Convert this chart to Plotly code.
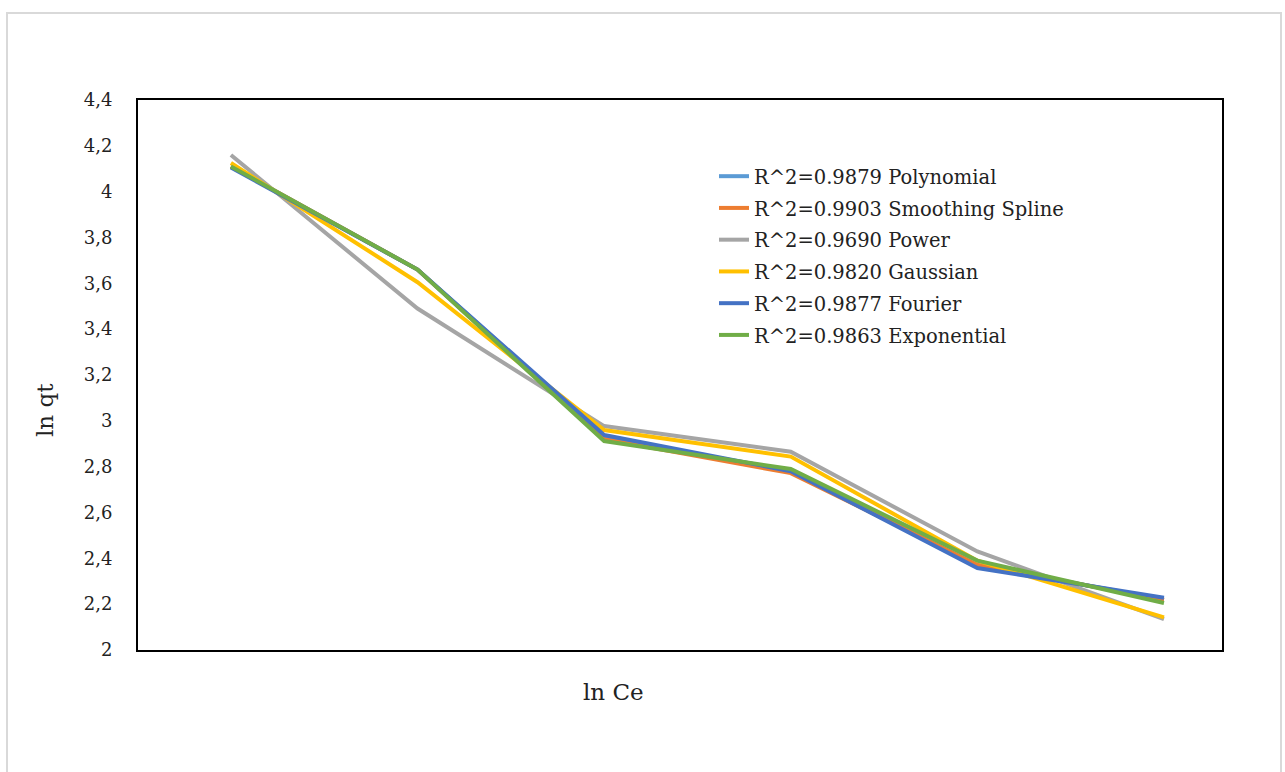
import plotly.graph_objects as go

x_vals = [1, 2, 3, 4, 5, 6]

polynomial = [4.11, 3.66, 2.93, 2.78, 2.37, 2.22]
smoothing_spline = [4.11, 3.66, 2.92, 2.772, 2.372, 2.218]
power = [4.16, 3.49, 2.977, 2.865, 2.43, 2.135]
gaussian = [4.125, 3.605, 2.96, 2.844, 2.39, 2.142]
fourier = [4.105, 3.66, 2.938, 2.78, 2.358, 2.228]
exponential = [4.11, 3.66, 2.912, 2.79, 2.39, 2.205]

series_names = [
    "R^2=0.9879 Polynomial",
    "R^2=0.9903 Smoothing Spline",
    "R^2=0.9690 Power",
    "R^2=0.9820 Gaussian",
    "R^2=0.9877 Fourier",
    "R^2=0.9863 Exponential",
]
series_values = [polynomial, smoothing_spline, power, gaussian, fourier, exponential]
colors = ["#5B9BD5", "#ED7D31", "#A5A5A5", "#FFC000", "#4472C4", "#70AD47"]

y_ticks = [2, 2.2, 2.4, 2.6, 2.8, 3, 3.2, 3.4, 3.6, 3.8, 4, 4.2, 4.4]

serif = "DejaVu Serif"

fig = go.Figure()
for i, (name, vals, col) in enumerate(zip(series_names, series_values, colors)):
    fig.add_trace(go.Scatter(
        x=x_vals, y=vals, mode="lines", name=name,
        line=dict(color=col, width=4), legendgroup=f"g{i}",
    ))

L, R, T, B = 138, 63, 100, 122
W, H = 1285, 772
pw, ph = W - L - R, H - T - B

def px(xp):
    return (xp - L) / pw

def py(yp):
    return 1 - (yp - T) / ph

fig.update_layout(
    width=W, height=H,
    margin=dict(l=L, r=R, t=T, b=B),
    paper_bgcolor="white", plot_bgcolor="white",
    separators=", ",
    showlegend=True,
    legend=dict(
        x=px(714), y=py(157), xanchor="left", yanchor="top",
        font=dict(family=serif, size=19.5, color="#222"),
        bgcolor="rgba(0,0,0,0)", tracegroupgap=3.4,
    ),
    xaxis=dict(
        range=[0.502, 6.311], showticklabels=False, ticks="",
        showgrid=False, zeroline=False,
        showline=True, mirror=True, linecolor="black", linewidth=2,
    ),
    yaxis=dict(
        range=[2, 4.4], tickvals=y_ticks, ticks="",
        showgrid=False, zeroline=False,
        showline=True, mirror=True, linecolor="black", linewidth=2,
        tickfont=dict(family=serif, size=18, color="#222"),
        ticklabelstandoff=20,
    ),
    shapes=[dict(
        type="rect", xref="paper", yref="paper",
        x0=px(7), x1=px(1281), y0=py(790), y1=py(13),
        line=dict(color="#D9D9D9", width=2), fillcolor="rgba(0,0,0,0)", layer="below",
    )],
    annotations=[
        dict(text="ln Ce", xref="paper", yref="paper", x=px(613), y=py(692),
             xanchor="center", yanchor="middle", showarrow=False,
             font=dict(family=serif, size=23, color="#222")),
        dict(text="ln qt", xref="paper", yref="paper", x=px(45), y=py(410),
             xanchor="center", yanchor="middle", showarrow=False, textangle=-90,
             font=dict(family=serif, size=23, color="#222")),
    ],
)

fig.write_html("out.html")
